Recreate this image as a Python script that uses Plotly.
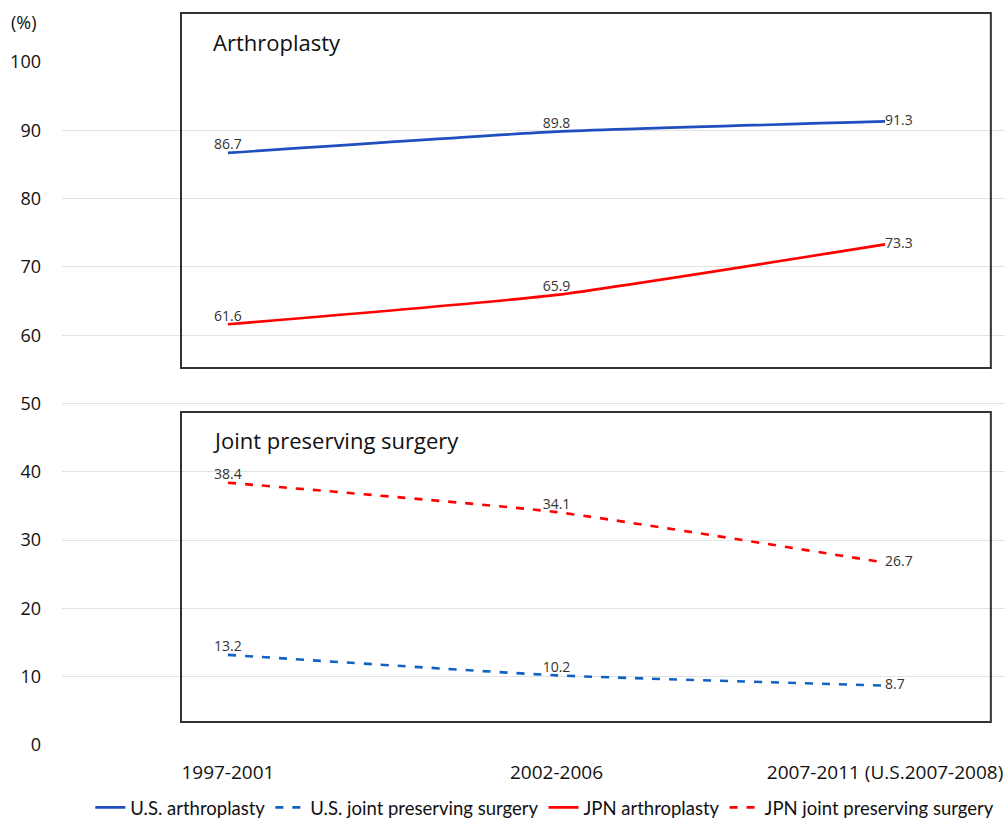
import plotly.graph_objects as go

periods = ["1997-2001", "2002-2006", "2007-2011 (U.S.2007-2008)"]
us_arthroplasty = [86.7, 89.8, 91.3]
us_joint_preserving = [13.2, 10.2, 8.7]
jpn_arthroplasty = [61.6, 65.9, 73.3]
jpn_joint_preserving = [38.4, 34.1, 26.7]
y_ticks = [0, 10, 20, 30, 40, 50, 60, 70, 80, 90, 100]
panel_titles = ["Arthroplasty", "Joint preserving surgery"]

FONT = "Open Sans"
xs = list(range(len(periods)))
label_pos = ["top center", "top center", "middle right"]

series = [
    ("U.S. arthroplasty", us_arthroplasty, "#1F4EBF", "solid"),
    ("U.S. joint preserving surgery", us_joint_preserving, "#1262C4", "8px,9px"),
    ("JPN arthroplasty", jpn_arthroplasty, "#FF0000", "solid"),
    ("JPN joint preserving surgery", jpn_joint_preserving, "#FF0000", "8px,9px"),
]

fig = go.Figure()
for name, vals, color, dash in series:
    fig.add_trace(go.Scatter(
        x=xs, y=vals, name=name, mode="lines+text",
        line=dict(color=color, width=2.6, dash=dash, shape="spline", smoothing=0.45),
        text=[f"{v:.1f}" for v in vals], textposition=label_pos,
        textfont=dict(family=FONT, size=14, color="#333333"),
        cliponaxis=False,
    ))

# Panel boxes
box_line = dict(color="#333333", width=2)
fig.add_shape(type="rect", xref="paper", yref="paper",
              x0=0.1262, x1=0.985, y0=0.552, y1=1.0717, line=box_line, layer="above")
fig.add_shape(type="rect", xref="paper", yref="paper",
              x0=0.1262, x1=0.985, y0=0.0337, y1=0.4876, line=box_line, layer="above")

fig.add_annotation(text=panel_titles[0], xref="paper", yref="paper", x=0.158, y=1.0300,
                   xanchor="left", yanchor="middle", showarrow=False,
                   font=dict(family=FONT, size=22, color="#111111"))
fig.add_annotation(text=panel_titles[1], xref="paper", yref="paper", x=0.158, y=0.4466,
                   xanchor="left", yanchor="middle", showarrow=False,
                   font=dict(family=FONT, size=22, color="#111111"))
fig.add_annotation(text="(%)", xref="paper", yref="paper", x=-0.040, y=1.0586,
                   xanchor="center", yanchor="middle", showarrow=False,
                   font=dict(family=FONT, size=18, color="#111111"))

fig.update_layout(
    width=1007, height=823,
    margin=dict(l=62, r=2, t=62, b=78, autoexpand=False),
    plot_bgcolor="white", paper_bgcolor="white",
    font=dict(family=FONT, size=16, color="#111111"),
    xaxis=dict(range=[-0.505, 2.365], tickmode="array", tickvals=xs, ticktext=periods,
               showgrid=False, zeroline=False, showline=False, ticks="",
               tickfont=dict(family=FONT, size=19, color="#111111"), ticklabelstandoff=14),
    yaxis=dict(range=[0, 100], tickvals=y_ticks, showgrid=True, gridcolor="#E3E3E3",
               gridwidth=1.3, zeroline=False, showline=False, ticks="",
               tickfont=dict(family=FONT, size=18, color="#111111"), ticklabelstandoff=20),
    legend=dict(orientation="h", x=0.03, y=-0.092, xanchor="left", yanchor="middle",
                font=dict(family="Lato", size=18.5, color="#111111"),
                itemwidth=30, tracegroupgap=0),
    showlegend=True,
)

fig.write_html("out.html", config={"displayModeBar": False},
               post_script="document.body.style.margin='0';document.body.style.overflow='hidden';")
